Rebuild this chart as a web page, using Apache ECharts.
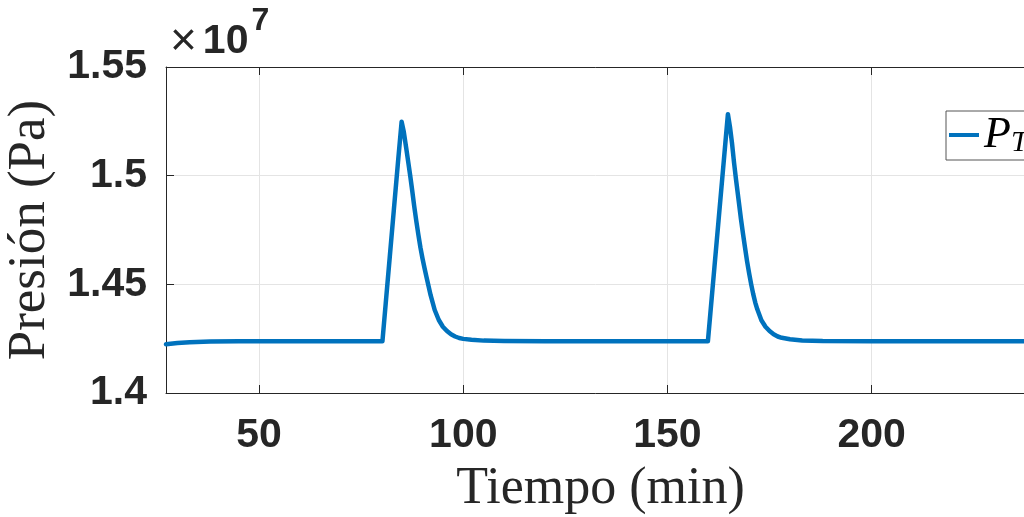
<!DOCTYPE html>
<html>
<head>
<meta charset="utf-8">
<script src="https://cdn.jsdelivr.net/npm/echarts@6/dist/echarts.min.js"></script>
<style>
  html, body { margin: 0; padding: 0; background: #fff; }
  #chart { width: 1024px; height: 517px; }
</style>
</head>
<body>
<div id="chart"></div>
<script>
// Time (min) and measured pressure P_T (Pa)
const timeMin = [27.2, 30, 33, 38, 45, 60, 80.2, 81, 82, 83, 84, 84.9, 85.4, 86.0, 86.5, 87.0, 87.5, 88.0, 88.5, 89.0, 89.5, 90.0, 90.5, 91.0, 92.0, 93.0, 94.0, 95.0, 96.0, 97.0, 98.0, 99.0, 100.0, 102.0, 105.0, 110.0, 120.0, 140, 159.9, 160.5, 161.5, 162.5, 163.5, 164.3, 164.8, 165.3, 165.8, 166.3, 166.8, 167.4, 168.0, 168.5, 169.0, 169.5, 170.0, 170.5, 171.0, 171.5, 172.0, 173.0, 174.0, 175.0, 176.0, 177.0, 178.0, 180.0, 183.0, 188.0, 200.0, 220, 240];
const pressurePa = [14224000, 14230000, 14234000, 14237000, 14238000, 14238000, 14238000, 14411000, 14627000, 14844000, 15060000, 15248000, 15205000, 15130000, 15065000, 15000000, 14930000, 14857000, 14790000, 14728000, 14670000, 14620000, 14575000, 14533000, 14450000, 14382000, 14336000, 14305000, 14285000, 14270000, 14260000, 14253000, 14249000, 14245000, 14241000, 14239000, 14238000, 14238000, 14238000, 14366000, 14579000, 14792000, 15006000, 15177000, 15283000, 15225000, 15150000, 15060000, 14980000, 14890000, 14800000, 14732000, 14668000, 14605000, 14550000, 14500000, 14455000, 14416000, 14385000, 14335000, 14305000, 14285000, 14270000, 14260000, 14254000, 14247000, 14242000, 14239000, 14238000, 14238000, 14238000];

const xTicks = [50, 100, 150, 200];
const xRange = [27.2, 240];
const yRange = [14000000, 15500000];
const yStep = 500000;
const yExponent = 7;

const axisColor = '#262626';
const gridColor = '#e4e4e4';
const lineColor = '#0072BD';
const tickFont = { fontFamily: 'Liberation Sans, Arial, sans-serif', fontWeight: 'bold', fontSize: 41, color: axisColor };
const labelFont = { fontFamily: 'Liberation Serif, Times New Roman, serif', fontSize: 52, color: axisColor };

const chart = echarts.init(document.getElementById('chart'), null, { renderer: 'canvas' });

chart.setOption({
  animation: false,
  backgroundColor: '#fff',
  title: {
    left: 170, top: 5, padding: 0,
    text: '{x|×}{n|10}{e|' + yExponent + '}',
    textStyle: {
      rich: {
        x: { fontFamily: 'Liberation Sans, Arial, sans-serif', fontSize: 46, fontWeight: 'normal', color: axisColor, lineHeight: 74, verticalAlign: 'middle', padding: [0, 6, 0, 0] },
        n: { fontFamily: 'Liberation Sans, Arial, sans-serif', fontSize: 41, fontWeight: 'bold', color: axisColor, lineHeight: 74, verticalAlign: 'middle', padding: [0, 3, 0, 0] },
        e: { fontFamily: 'Liberation Sans, Arial, sans-serif', fontSize: 32, fontWeight: 'bold', color: axisColor, lineHeight: 32, verticalAlign: 'top' }
      }
    }
  },
  legend: {
    left: 946, top: 111,
    orient: 'vertical',
    selectedMode: false,
    backgroundColor: '#fff',
    borderColor: '#555',
    borderWidth: 1,
    borderRadius: 0,
    padding: [2, 60, 2, 3],
    itemWidth: 30,
    itemHeight: 4,
    icon: 'rect',
    formatter: () => '{p|P}{s|T}',
    textStyle: {
      rich: {
        p: { fontFamily: 'Liberation Serif, serif', fontStyle: 'italic', fontSize: 44, color: '#000', lineHeight: 46, verticalAlign: 'middle' },
        s: { fontFamily: 'Liberation Serif, serif', fontStyle: 'italic', fontSize: 30, color: '#000', lineHeight: 30, verticalAlign: 'bottom' }
      }
    },
    data: [{ name: 'P_T', itemStyle: { color: lineColor } }]
  },
  grid: { left: 166, top: 67, right: -11, bottom: 124, containLabel: false, outerBoundsMode: 'none' },
  xAxis: [{
    type: 'value',
    min: xRange[0], max: xRange[1],
    position: 'bottom',
    name: 'Tiempo (min)',
    nameLocation: 'middle',
    nameGap: 70,
    nameTextStyle: labelFont,
    axisLine: { show: true, lineStyle: { color: axisColor, width: 1 } },
    axisTick: { show: true, inside: true, length: 8, customValues: xTicks, lineStyle: { color: axisColor } },
    axisLabel: { customValues: xTicks, margin: 22, ...tickFont, formatter: v => String(v) },
    splitLine: { show: true, lineStyle: { color: gridColor, width: 1 } }
  }, {
    type: 'value',
    min: xRange[0], max: xRange[1],
    position: 'top',
    axisLine: { show: true, lineStyle: { color: axisColor, width: 1 } },
    axisTick: { show: true, inside: true, length: 8, customValues: xTicks, lineStyle: { color: axisColor } },
    axisLabel: { show: false },
    splitLine: { show: false }
  }],
  yAxis: {
    type: 'value',
    min: yRange[0], max: yRange[1], interval: yStep,
    name: 'Presión (Pa)',
    nameLocation: 'middle',
    nameGap: 107,
    nameTextStyle: { ...labelFont, fontSize: 53 },
    axisLine: { show: true, lineStyle: { color: axisColor, width: 1 } },
    axisTick: { show: true, inside: true, length: 8, lineStyle: { color: axisColor } },
    axisLabel: { margin: 19, ...tickFont, formatter: v => String(+(v / Math.pow(10, yExponent)).toFixed(2)) },
    splitLine: { show: true, lineStyle: { color: gridColor, width: 1 } }
  },
  series: [{
    name: 'P_T',
    type: 'line',
    xAxisIndex: 0,
    showSymbol: false,
    symbol: 'none',
    data: timeMin.map((t, i) => [t, pressurePa[i]]),
    lineStyle: { color: lineColor, width: 4.5, cap: 'round', join: 'round' },
    itemStyle: { color: lineColor },
    z: 5
  }]
});
</script>
</body>
</html>
